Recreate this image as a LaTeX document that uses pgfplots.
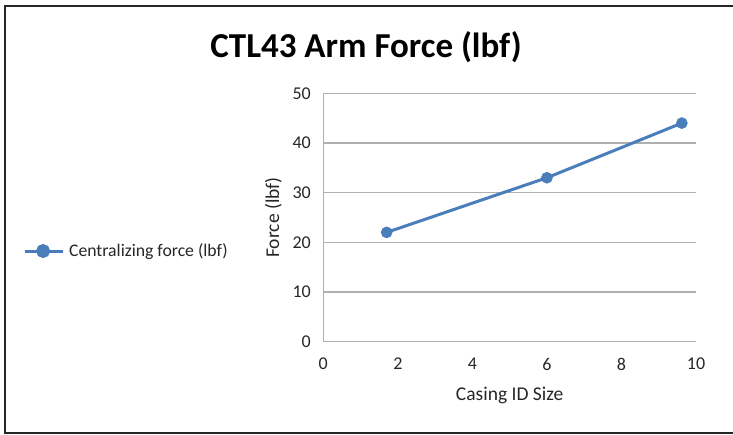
\documentclass[border=0pt]{standalone}
\usepackage{pgfplots}
\pgfplotsset{compat=1.18}
\usepackage{fontspec}
\setmainfont{Carlito}
\definecolor{serblue}{HTML}{4A7EBB}
\definecolor{gridgray}{HTML}{B0B0B0}
\begin{document}
\begin{tikzpicture}[x=1pt,y=1pt]
\useasboundingbox (0,0) rectangle (733,435);
\draw[line width=2pt,black!85] (5,430) -- (5,1);
\draw[line width=2pt,black!85] (4,429) -- (733,429);
\draw[line width=2pt,black!85] (4,2) -- (733,2);
\node[font=\bfseries\fontsize{35}{40}\selectfont] at (366,388) {CTL43 Arm Force (lbf)};
\begin{axis}[
  at={(323.3pt,93.3pt)}, anchor=origin,
  scale only axis, width=372.7pt, height=248.4pt,
  xmin=0, xmax=10, ymin=0, ymax=50,
  xtick={0,2,4,6,8,10}, ytick={0,10,20,30,40,50},
  major tick length=0pt,
  ymajorgrids, grid style={gridgray, line width=1.3pt},
  axis line style={gridgray, line width=1.3pt},
  axis x line*=bottom, axis y line*=left,
  x axis line style={-}, y axis line style={-},
  /pgf/number format/assume math mode=true,
  ticklabel style={font=\fontsize{18}{21}\selectfont, text=black!85},
  yticklabel style={xshift=-9pt},
  xticklabel style={yshift=-13pt},
  xlabel={Casing ID Size}, ylabel={Force (lbf)},
  label style={font=\fontsize{19.5}{23}\selectfont, text=black!85},
  xlabel style={at={(axis description cs:0.5,-0.217)}, anchor=center},
  ylabel style={at={(axis description cs:-0.134,0.5)}, anchor=center, rotate=0},
  legend style={at={(axis description cs:-0.806,0.365)}, anchor=west, draw=none, fill=none,
    font=\fontsize{17.7}{21}\selectfont, text=black!85, inner sep=0pt,
    nodes={inner sep=2pt}},
  legend image code/.code={
    \draw[serblue, line width=3pt] (0pt,0pt) -- (38pt,0pt);
    \fill[serblue] (18.5pt,0pt) circle (5.5pt);
    \path (41pt,0pt);
  },
  clip=false,
]
\addplot[serblue, line width=3pt, mark=*, mark size=5.6pt, mark options={fill=serblue, draw=serblue, line width=0.4pt, solid}]
  coordinates {(1.7,22) (6,33) (9.62,44)};
\addlegendentry{Centralizing force (lbf)}
\end{axis}
\end{tikzpicture}
\end{document}
